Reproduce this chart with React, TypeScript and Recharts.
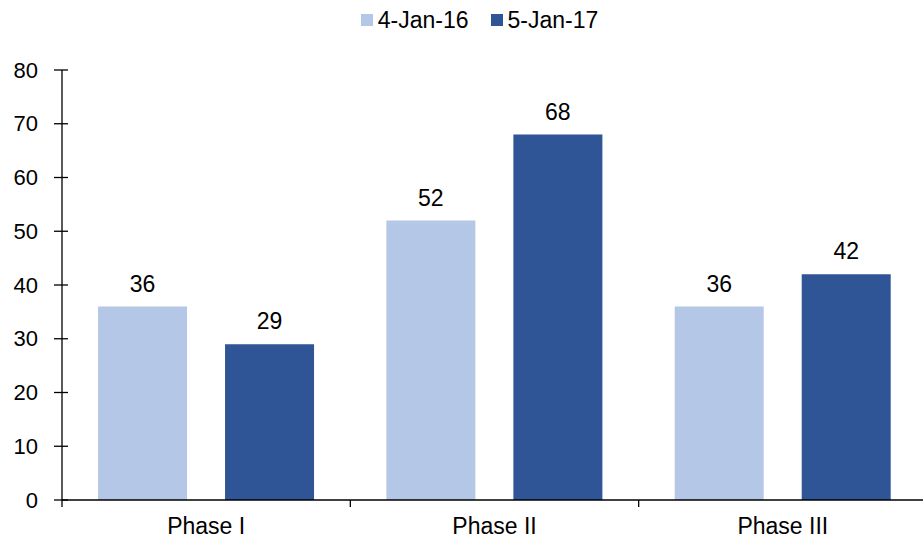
import { BarChart, Bar, XAxis, YAxis, LabelList } from 'recharts';

const categories = ['Phase I', 'Phase II', 'Phase III'];
const seriesNames = ['4-Jan-16', '5-Jan-17'];
const jan16 = [36, 52, 36];
const jan17 = [29, 68, 42];
const yTicks = [0, 10, 20, 30, 40, 50, 60, 70, 80];

const colors = ['#B4C7E7', '#2F5597'];
const FONT = '"Liberation Sans", Arial, sans-serif';

const W = 923;
const H = 541;
const Y_AXIS_W = 62;
const X_MARGIN = 18;
const Y_MARGIN = 24;

const data = categories.map((name, i) => ({ name, a: jan16[i], b: jan17[i] }));

const band = (W + 4 - Y_AXIS_W) / categories.length;

const XTick = ({ x, y, payload, index }: any) => {
  const axisY = y - X_MARGIN;
  const last = index === categories.length - 1;
  return (
    <g>
      <line x1={x - band / 2} x2={x - band / 2} y1={axisY} y2={axisY + 7} stroke="#000" strokeWidth={1.3} />
      {last && (
        <line x1={x + band / 2 - 1} x2={x + band / 2 - 1} y1={axisY} y2={axisY + 7} stroke="#000" strokeWidth={1.3} />
      )}
      <text x={x} y={y} dy="0.71em" textAnchor="middle" fontSize={23} fill="#000" fontFamily={FONT}>
        {payload.value}
      </text>
    </g>
  );
};

const YTick = ({ x, y, payload }: any) => {
  const axisX = x + Y_MARGIN;
  return (
    <g>
      <line x1={axisX - 8} x2={axisX + 6} y1={y} y2={y} stroke="#000" strokeWidth={1.3} />
      <text x={x} y={y} dy="0.35em" textAnchor="end" fontSize={22} fill="#000" fontFamily={FONT}>
        {payload.value}
      </text>
    </g>
  );
};

export default function App() {
  return (
    <div style={{ position: 'absolute', left: 0, top: 0, width: W, height: H, background: '#fff', fontFamily: FONT, overflow: 'hidden' }}>
      <div
        style={{
          position: 'absolute',
          top: 6,
          left: 0,
          width: W,
          display: 'flex',
          justifyContent: 'center',
          paddingLeft: 36,
          boxSizing: 'border-box',
          fontSize: 23,
          lineHeight: '28px',
          gap: 22,
        }}
      >
        {seriesNames.map((n, i) => (
          <div key={n} style={{ display: 'flex', alignItems: 'center', gap: 5 }}>
            <span style={{ width: 12, height: 12, background: colors[i], display: 'inline-block' }} />
            <span>{n}</span>
          </div>
        ))}
      </div>
      <BarChart
        width={W + 4}
        height={H}
        data={data}
        margin={{ top: 70, right: 0, bottom: 0, left: 0 }}
        barCategoryGap="12.5%"
        barGap={38}
      >
        <XAxis
          dataKey="name"
          height={H - 500}
          axisLine={{ stroke: '#000', strokeWidth: 1.3 }}
          tickLine={false}
          tickSize={0}
          tickMargin={X_MARGIN}
          tick={<XTick />}
          interval={0}
        />
        <YAxis
          width={Y_AXIS_W}
          domain={[0, 80]}
          ticks={yTicks}
          axisLine={{ stroke: '#000', strokeWidth: 1.3 }}
          tickLine={false}
          tickSize={0}
          tickMargin={Y_MARGIN}
          tick={<YTick />}
          interval={0}
        />
        <Bar dataKey="a" name={seriesNames[0]} fill={colors[0]} isAnimationActive={false}>
          <LabelList dataKey="a" position="top" offset={15} fontSize={23} fill="#000" fontFamily={FONT} />
        </Bar>
        <Bar dataKey="b" name={seriesNames[1]} fill={colors[1]} isAnimationActive={false}>
          <LabelList dataKey="b" position="top" offset={15} fontSize={23} fill="#000" fontFamily={FONT} />
        </Bar>
      </BarChart>
    </div>
  );
}
